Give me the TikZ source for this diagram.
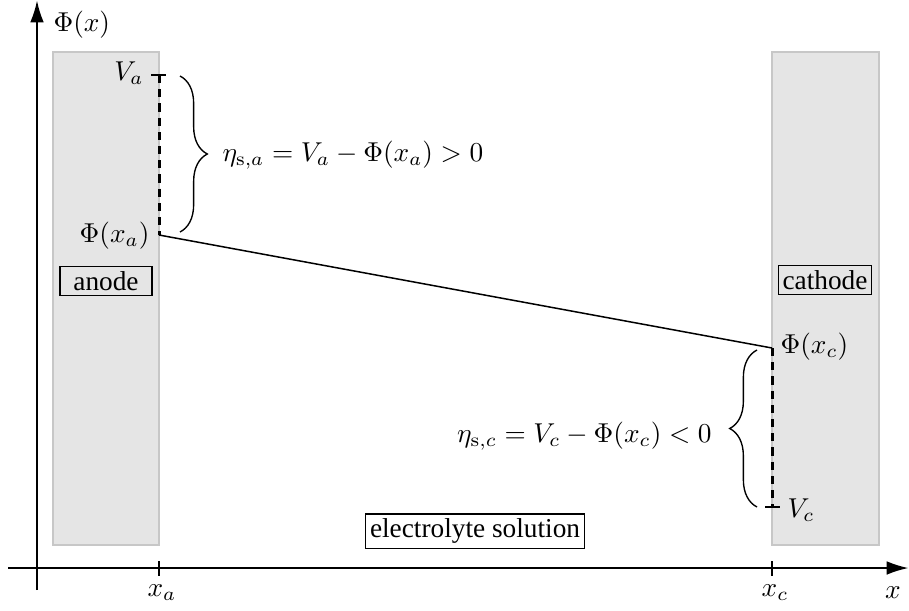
\documentclass[tikz,border=0pt]{standalone}
\usepackage[no-math]{fontspec}
\setmainfont{Liberation Serif}
\newfontfamily\boxfont{Liberation Serif}
\usetikzlibrary{arrows.meta,decorations.pathreplacing}
\begin{document}
\begin{tikzpicture}[x=0.3663pt,y=-0.3663pt,
  electrode/.style={fill=black!10,draw=black!22,line width=0.4pt},
  axisline/.style={line width=0.7pt,-{Latex[length=8pt,width=5pt]}},
  tickline/.style={line width=0.5pt},
  overpot/.style={line width=1.1pt,dash pattern=on 3pt off 2.2pt},
  potline/.style={line width=0.55pt},
  bracestyle/.style={decorate,decoration={brace,amplitude=10pt,aspect=0.5},line width=0.5pt},
  labelbox/.style={draw,line width=0.4pt,inner xsep=1.5pt,inner ysep=1.7pt,minimum width=33.7pt,font=\boxfont},
  plain/.style={inner sep=0pt}]
\useasboundingbox (0,0) rectangle (909,610);
% electrodes
\fill[electrode] (53,52) rectangle (159,545);
\draw[electrode] (53,52) rectangle (159,545);
\fill[electrode] (772,52) rectangle (879,545);
\draw[electrode] (772,52) rectangle (879,545);
% axes
\coordinate (ybot) at (37,590);
\coordinate (ytop) at (37,0.5);
\coordinate (xleft) at (8,568);
\coordinate (xright) at (908.5,568);
\draw[axisline] (ybot) -- (ytop);
\draw[axisline] (xleft) -- (xright);
\node[plain,anchor=west] (phix) at (53,25) {$\Phi(x)$};
\node[plain] (xlab) at (893,593) {$x$};
% ticks
\coordinate (ta1) at (159,561);
\coordinate (ta2) at (159,576);
\coordinate (tc1) at (772,561);
\coordinate (tc2) at (772,576);
\draw[tickline] (ta1) -- (ta2);
\draw[tickline] (tc1) -- (tc2);
\node[plain] (xa) at (162,593) {$x_a$};
\node[plain] (xc) at (775,593) {$x_c$};
% anode potentials
\coordinate (Va) at (159,75);
\coordinate (Pa) at (159,235);
\coordinate (Va1) at (151,75);
\coordinate (Va2) at (166,75);
\draw[tickline] (Va1) -- (Va2);
\draw[overpot] (Va) -- (Pa);
\node[plain,anchor=east] (Valab) at (144,73) {$V_a$};
\node[plain,anchor=east] (Palab) at (150,236) {$\Phi(x_a)$};
% cathode potentials
\coordinate (Pc) at (772,348);
\coordinate (Vc) at (772,507);
\coordinate (Vc1) at (765,507);
\coordinate (Vc2) at (780,507);
\draw[tickline] (Vc1) -- (Vc2);
\draw[overpot] (Pc) -- (Vc);
\node[plain,anchor=west] (Pclab) at (780,347) {$\Phi(x_c)$};
\node[plain,anchor=west] (Vclab) at (787,510) {$V_c$};
% potential drop in electrolyte
\draw[potline] (Pa) -- (Pc);
% braces
\coordinate (ba1) at (180,76);
\coordinate (ba2) at (180,232);
\draw[bracestyle] (ba1) -- (ba2);
\node[plain,anchor=west] (etaa) at (222,155) {$\eta_{\mathrm{s},a} = V_a - \Phi(x_a) > 0$};
\coordinate (bc1) at (757,507);
\coordinate (bc2) at (757,350);
\draw[bracestyle] (bc1) -- (bc2);
\node[plain,anchor=east] (etac) at (712,436) {$\eta_{\mathrm{s},c} = V_c - \Phi(x_c) < 0$};
% labels
\node[labelbox] (anode) at (106,281) {anode};
\node[labelbox] (cathode) at (825,280) {cathode};
\node[labelbox] (electrolyte) at (475,531) {electrolyte solution};
\end{tikzpicture}
\end{document}
